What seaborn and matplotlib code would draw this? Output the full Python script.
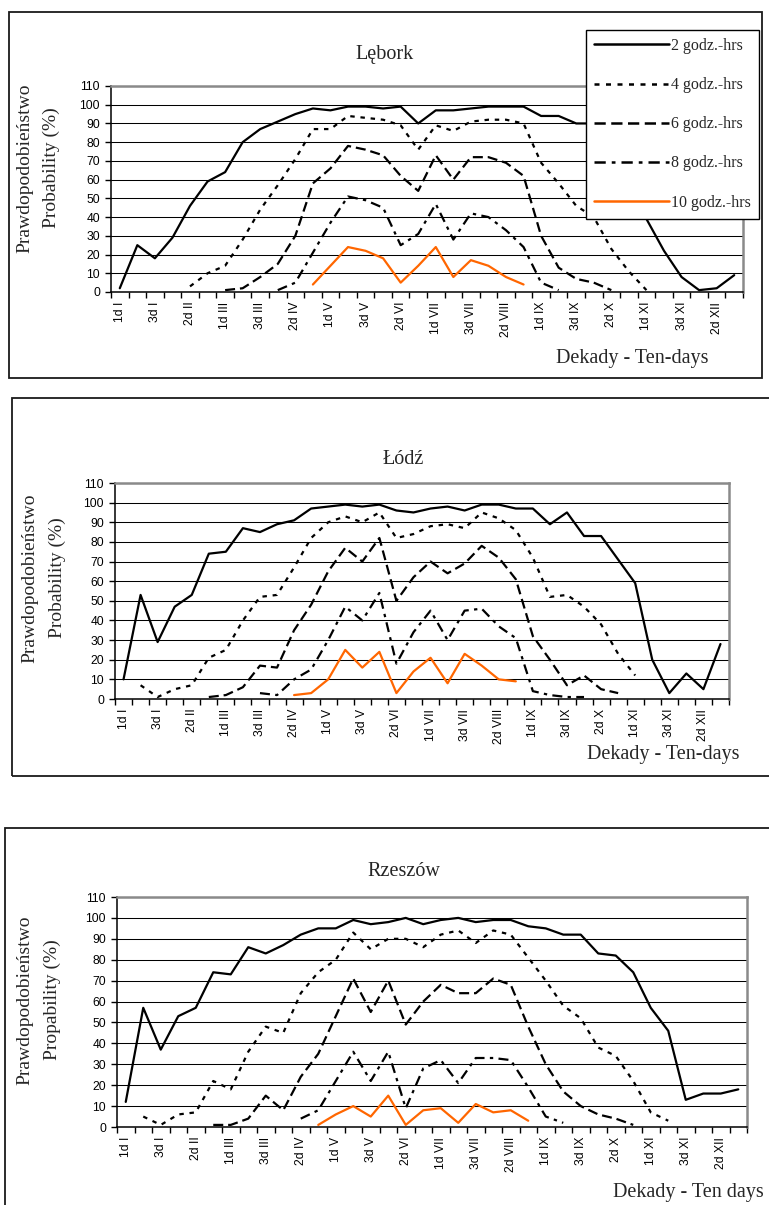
import numpy as np
import pandas as pd
import matplotlib
matplotlib.use("Agg")
import matplotlib.pyplot as plt
from matplotlib.lines import Line2D
from matplotlib.patches import Rectangle
from matplotlib.ticker import MultipleLocator, FixedLocator
import seaborn as sns

nan = np.nan

# ten-day periods (dekady) of the year
dekady = [
    "1d I", "2d I", "3d I", "1d II", "2d II", "3d II",
    "1d III", "2d III", "3d III", "1d IV", "2d IV", "3d IV",
    "1d V", "2d V", "3d V", "1d VI", "2d VI", "3d VI",
    "1d VII", "2d VII", "3d VII", "1d VIII", "2d VIII", "3d VIII",
    "1d IX", "2d IX", "3d IX", "1d X", "2d X", "3d X",
    "1d XI", "2d XI", "3d XI", "1d XII", "2d XII", "3d XII",
]
tick_labels = ["1d I", "3d I", "2d II", "1d III", "3d III", "2d IV",
               "1d V", "3d V", "2d VI", "1d VII", "3d VII", "2d VIII",
               "1d IX", "3d IX", "2d X", "1d XI", "3d XI", "2d XII"]

series_names = ["2 godz.-hrs", "4 godz.-hrs", "6 godz.-hrs",
                "8 godz.-hrs", "10 godz.-hrs"]

# Lębork
lebork_2h = [2, 25, 18, 29, 46, 59, 64, 80, 87, 91, 95, 98, 97, 99, 99, 98, 99, 90,
             97, 97, 98, 99, 99, 99, 94, 94, 90, 90, 80, 60, 39, 22, 8, 1, 2, 9]
lebork_4h = [nan, nan, nan, nan, 3, 10, 14, 28, 44, 57, 71, 87, 87, 94, 93, 92, 89, 76,
             89, 86, 91, 92, 92, 90, 69, 58, 46, 40, 23, 11, 1, nan, nan, nan, nan, nan]
lebork_6h = [nan, nan, nan, nan, nan, nan, 1, 2, 8, 15, 30, 58, 66, 78, 76, 73, 62, 54,
             73, 60, 72, 72, 69, 62, 30, 13, 7, 5, 1, nan, nan, nan, nan, nan, nan, nan]
lebork_8h = [nan, nan, nan, nan, nan, nan, nan, nan, nan, 1, 5, 21, 37, 51, 49, 45, 25, 31,
             47, 28, 42, 40, 33, 24, 5, 1, nan, nan, nan, nan, nan, nan, nan, nan, nan, nan]
lebork_10h = [nan, nan, nan, nan, nan, nan, nan, nan, nan, nan, nan, 4, 14, 24, 22, 18, 5, 14,
              24, 8, 17, 14, 8, 4, nan, nan, nan, nan, nan, nan, nan, nan, nan, nan, nan, nan]

# Łódź
lodz_2h = [10, 53, 29, 47, 53, 74, 75, 87, 85, 89, 91, 97, 98, 99, 98, 99, 96, 95,
           97, 98, 96, 99, 99, 97, 97, 89, 95, 83, 83, 71, 59, 20, 3, 13, 5, 28]
lodz_4h = [nan, 7, 1, 5, 7, 21, 25, 40, 52, 53, 67, 82, 90, 93, 90, 95, 82, 84,
           88, 89, 87, 95, 92, 86, 72, 52, 53, 47, 38, 23, 12, nan, nan, nan, nan, nan]
lodz_6h = [nan, nan, nan, nan, nan, 1, 2, 6, 17, 16, 35, 48, 65, 77, 70, 82, 50, 62,
           70, 64, 69, 78, 72, 61, 32, 20, 7, 12, 5, 3, nan, nan, nan, nan, nan, nan]
lodz_8h = [nan, nan, nan, nan, nan, nan, nan, nan, 3, 2, 10, 15, 30, 47, 40, 54, 18, 34,
           45, 30, 45, 46, 37, 31, 4, 2, 1, 1, nan, nan, nan, nan, nan, nan, nan, nan]
lodz_10h = [nan, nan, nan, nan, nan, nan, nan, nan, nan, nan, 2, 3, 10, 25, 16, 24, 3, 14,
            21, 8, 23, 17, 10, 9, nan, nan, nan, nan, nan, nan, nan, nan, nan, nan, nan, nan]

# Rzeszów
rzeszow_2h = [12, 57, 37, 53, 57, 74, 73, 86, 83, 87, 92, 95, 95, 99, 97, 98, 100, 97,
              99, 100, 98, 99, 99, 96, 95, 92, 92, 83, 82, 74, 57, 46, 13, 16, 16, 18]
rzeszow_4h = [nan, 5, 1, 6, 7, 22, 18, 36, 48, 45, 64, 74, 80, 93, 85, 90, 90, 86,
              92, 94, 88, 94, 92, 81, 70, 58, 52, 38, 34, 22, 7, 3, nan, nan, nan, nan]
rzeszow_6h = [nan, nan, nan, nan, nan, 1, 1, 4, 15, 8, 24, 35, 53, 71, 55, 70, 49, 60,
              68, 64, 64, 71, 68, 48, 30, 17, 10, 6, 4, 1, nan, nan, nan, nan, nan, nan]
rzeszow_8h = [nan, nan, nan, nan, nan, nan, nan, nan, nan, nan, 4, 8, 22, 36, 22, 36, 9, 28,
              32, 21, 33, 33, 32, 19, 5, 2, nan, nan, nan, nan, nan, nan, nan, nan, nan, nan]
rzeszow_10h = [nan, nan, nan, nan, nan, nan, nan, nan, nan, nan, nan, 1, 6, 10, 5, 15, 1, 8,
               9, 2, 11, 7, 8, 3, nan, nan, nan, nan, nan, nan, nan, nan, nan, nan, nan, nan]

# ---------------------------------------------------------------- styling
sns.set_style("white")
plt.rcParams["font.family"] = ["Liberation Sans", "DejaVu Sans"]
SERIF = ["Liberation Serif", "DejaVu Serif"]

palette = {
    "2 godz.-hrs": "black",
    "4 godz.-hrs": "black",
    "6 godz.-hrs": "black",
    "8 godz.-hrs": "black",
    "10 godz.-hrs": "#FF6600",
}
dashes = {
    "2 godz.-hrs": "",
    "4 godz.-hrs": (2.0, 2.6),
    "6 godz.-hrs": (4.5, 2.2),
    "8 godz.-hrs": (4.5, 2.4, 1.5, 2.4),
    "10 godz.-hrs": "",
}
LW = 1.6

W, H = 769, 1205
fig = plt.figure(figsize=(W / 100, H / 100), dpi=100)
fig.patch.set_facecolor("white")


def fig_rect(l, t, r, b):
    return [l / W, 1 - b / H, (r - l) / W, (b - t) / H]


def draw_frame(l, t, r, b):
    fig.add_artist(Rectangle((l / W, 1 - b / H), (r - l) / W, (b - t) / H,
                             transform=fig.transFigure, fill=False,
                             edgecolor="#1a1a1a", linewidth=1.3, zorder=-1))


def draw_panel(axes_box, frame_box, title, title_xy, ylab2, ylab_x, ylab_y,
               xlab, xlab_xy, xlab_ha, values):
    draw_frame(*frame_box)
    ax = fig.add_axes(fig_rect(*axes_box))
    rows = []
    for name, vals in zip(series_names, values):
        for pos, v in enumerate(vals):
            if not np.isnan(v):
                rows.append((pos, v, name))
    df = pd.DataFrame(rows, columns=["pos", "p", "seria"])
    sns.lineplot(data=df, x="pos", y="p", hue="seria", style="seria",
                 hue_order=series_names, style_order=series_names,
                 palette=palette, dashes=dashes, linewidth=LW,
                 estimator=None, legend=False, ax=ax)

    ax.set_xlim(-0.5, len(dekady) - 0.5)
    ax.set_ylim(0, 110)
    ax.yaxis.set_major_locator(MultipleLocator(10))
    ax.set_yticklabels([str(int(v)) for v in ax.get_yticks()])
    ax.set_xticks([dekady.index(t) for t in tick_labels])
    ax.set_xticklabels(tick_labels, rotation=90)
    ax.xaxis.set_minor_locator(FixedLocator(np.arange(-0.5, len(dekady), 1.0)))
    ax.tick_params(axis="x", which="major", length=0, pad=7, labelsize=8.7,
                   colors="black")
    ax.tick_params(axis="x", which="minor", length=4.5, width=1.0,
                   direction="out", color="black", bottom=True)
    ax.tick_params(axis="y", which="major", length=4, width=1.0,
                   direction="out", pad=4, labelsize=8.7, colors="black", left=True)
    ax.set_xlabel("")
    ax.set_ylabel("")
    ax.set_axisbelow(True)
    ax.yaxis.grid(True, color="black", linewidth=0.75)
    ax.xaxis.grid(False)
    for side in ("left", "bottom"):
        ax.spines[side].set_color("black")
        ax.spines[side].set_linewidth(1.1)
    for side in ("top", "right"):
        ax.spines[side].set_color("#8a8a8a")
        ax.spines[side].set_linewidth(1.8)
    ax.set_facecolor("white")

    fig.text(title_xy[0] / W, 1 - title_xy[1] / H, title, ha="center",
             va="center", fontsize=14.5, family=SERIF)
    fig.text(ylab_x[0] / W, 1 - ylab_y / H, "Prawdopodobieństwo", rotation=90,
             ha="center", va="center", fontsize=14, family=SERIF)
    fig.text(ylab_x[1] / W, 1 - ylab_y / H, ylab2, rotation=90,
             ha="center", va="center", fontsize=14, family=SERIF)
    fig.text(xlab_xy[0] / W, 1 - xlab_xy[1] / H, xlab, ha=xlab_ha,
             va="center", fontsize=14.5, family=SERIF)
    return ax


ax1 = draw_panel((111, 86, 743, 292), (9, 12, 762, 378), "Lębork", (384, 55),
                 "Probability (%)", (25, 51), 168,
                 "Dekady - Ten-days", (632, 358), "center",
                 [lebork_2h, lebork_4h, lebork_6h, lebork_8h, lebork_10h])
ax2 = draw_panel((115, 483, 729, 699), (12, 398, 775, 776), "Łódź", (403, 459),
                 "Probability (%)", (30, 57), 578,
                 "Dekady - Ten-days", (663, 755), "center",
                 [lodz_2h, lodz_4h, lodz_6h, lodz_8h, lodz_10h])
ax3 = draw_panel((117, 897, 747, 1127), (5, 828, 775, 1215), "Rzeszów", (404, 872),
                 "Propability (%)", (25, 52), 1000,
                 "Dekady - Ten days", (764, 1192), "right",
                 [rzeszow_2h, rzeszow_4h, rzeszow_6h, rzeszow_8h, rzeszow_10h])

# legend of the Lębork panel
handles = []
for name in series_names:
    d = dashes[name]
    if d == "":
        h = Line2D([], [], color=palette[name], linewidth=LW + 0.2, linestyle="-")
    else:
        h = Line2D([], [], color=palette[name], linewidth=LW + 0.2, dashes=d)
    handles.append(h)
fig.legend(handles, series_names, loc="upper left",
           bbox_to_anchor=(586 / W, 1 - 30 / H), bbox_transform=fig.transFigure,
           borderaxespad=0, frameon=True, fancybox=False, framealpha=1,
           edgecolor="black", facecolor="white", prop={"family": SERIF, "size": 11.5},
           handlelength=4.7, handletextpad=0.1, labelspacing=1.45, borderpad=0.5)

fig.savefig("out.png", dpi=100, facecolor="white")
